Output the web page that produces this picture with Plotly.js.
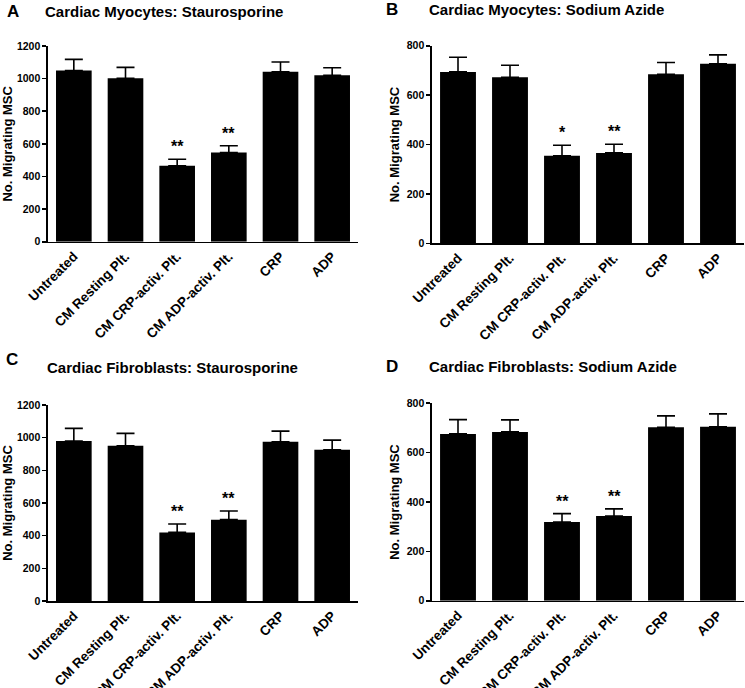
<!DOCTYPE html>
<html>
<head>
<meta charset="utf-8">
<script src="https://cdn.plot.ly/plotly-3.0.1.min.js"></script>
<style>html,body{margin:0;padding:0;background:#fff;}#chart{width:745px;height:688px;}</style>
</head>
<body>
<div id="chart"></div>
<script>
// ---- data ----
const categories = ["Untreated", "CM Resting Plt.", "CM CRP-activ. Plt.", "CM ADP-activ. Plt.", "CRP", "ADP"];

const meanA = [1050, 1002, 465, 547, 1042, 1020];
const errA  = [68, 67, 41, 41, 60, 47];
const sigA  = ["", "", "**", "**", "", ""];

const meanB = [694, 672, 354, 366, 684, 727];
const errB  = [59, 49, 43, 35, 48, 36];
const sigB  = ["", "", "*", "**", "", ""];

const meanC = [979, 950, 420, 498, 975, 926];
const errC  = [78, 76, 51, 53, 65, 59];
const sigC  = ["", "", "**", "**", "", ""];

const meanD = [676, 684, 319, 343, 703, 705];
const errD  = [58, 49, 34, 29, 46, 52];
const sigD  = ["", "", "**", "**", "", ""];

const panelLetters = ["A", "B", "C", "D"];
const panelTitles = [
  "Cardiac Myocytes: Staurosporine",
  "Cardiac Myocytes: Sodium Azide",
  "Cardiac Fibroblasts: Staurosporine",
  "Cardiac Fibroblasts: Sodium Azide"
];
const yTitle = "No. Migrating MSC";
const yMax = [1200, 800, 1200, 800];

// ---- build ----
const W = 745, H = 688;
const FONT = "Liberation Sans, Arial, sans-serif";
const panels = [
  {mean: meanA, err: errA, sig: sigA, xa: "x",  ya: "y",  xd: [48, 358], yd: [241.7, 46],  letter: [5, 11],  title: [43, 11]},
  {mean: meanB, err: errB, sig: sigB, xa: "x2", ya: "y2", xd: [432, 744], yd: [243.3, 45.7], letter: [384, 9], title: [427, 9]},
  {mean: meanC, err: errC, sig: sigC, xa: "x3", ya: "y3", xd: [48, 358], yd: [601, 405],  letter: [4, 359], title: [45, 368]},
  {mean: meanD, err: errD, sig: sigD, xa: "x4", ya: "y4", xd: [432, 744], yd: [600.7, 403.3], letter: [384, 367], title: [427, 367]}
];

const traces = [];
const annotations = [];
const layout = {
  width: W, height: H,
  margin: {l: 0, r: 0, t: 0, b: 0},
  paper_bgcolor: "#fff", plot_bgcolor: "#fff",
  showlegend: false,
  bargap: 0.31,
  font: {family: FONT, color: "#000"},
  annotations: annotations
};

panels.forEach((p, i) => {
  traces.push({
    type: "bar",
    x: categories,
    y: p.mean,
    xaxis: p.xa, yaxis: p.ya,
    marker: {color: "#000", line: {width: 0}},
    error_y: {
      type: "data", symmetric: false,
      array: p.err,
      arrayminus: p.err.map(() => 0),
      color: "#000", thickness: 1.6, width: 9
    },
    hoverinfo: "none"
  });
  const sfx = i === 0 ? "" : String(i + 1);
  layout["xaxis" + sfx] = {
    domain: [p.xd[0] / W, p.xd[1] / W],
    anchor: "y" + sfx,
    type: "category",
    range: [-0.5, 5.5],
    showline: true, linecolor: "#000", linewidth: 1.6,
    ticks: "", showgrid: false, zeroline: false,
    tickangle: -45,
    tickfont: {family: FONT, size: 13.5, weight: "bold", color: "#000"},
    fixedrange: true
  };
  layout["yaxis" + sfx] = {
    domain: [1 - p.yd[0] / H, 1 - p.yd[1] / H],
    anchor: "x" + sfx,
    range: [0, yMax[i]],
    dtick: 200, tick0: 0,
    showline: true, linecolor: "#000", linewidth: 1.6,
    ticks: "outside", ticklen: 4, tickwidth: 1.6, tickcolor: "#000",
    showgrid: false, zeroline: false,
    tickfont: {family: FONT, size: 10.5, weight: "bold", color: "#000"},
    title: {text: yTitle, font: {family: FONT, size: 13, weight: "bold", color: "#000"}, standoff: 4},
    fixedrange: true
  };
  annotations.push({
    xref: "paper", yref: "paper", x: p.letter[0] / W, y: 1 - p.letter[1] / H,
    xanchor: "left", yanchor: "middle", showarrow: false,
    text: panelLetters[i], font: {family: FONT, size: 17, weight: "bold", color: "#000"}
  });
  annotations.push({
    xref: "paper", yref: "paper", x: p.title[0] / W, y: 1 - p.title[1] / H,
    xanchor: "left", yanchor: "middle", showarrow: false,
    text: panelTitles[i], font: {family: FONT, size: 15, weight: "bold", color: "#000"}
  });
  p.sig.forEach((s, j) => {
    if (!s) return;
    annotations.push({
      xref: p.xa, yref: p.ya, x: categories[j], y: p.mean[j] + p.err[j],
      xanchor: "center", yanchor: "bottom", yshift: 2, showarrow: false,
      text: s, font: {family: FONT, size: 16, weight: "bold", color: "#000"}
    });
  });
});

Plotly.newPlot("chart", traces, layout, {staticPlot: true, displayModeBar: false});
</script>
</body>
</html>
